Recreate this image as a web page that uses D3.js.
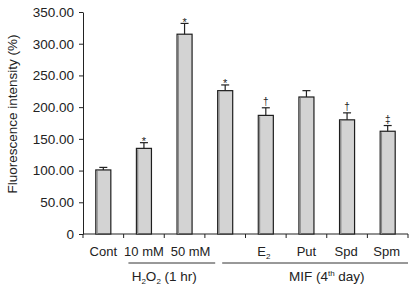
<!DOCTYPE html>
<html>
<head>
<meta charset="UTF-8">
<script src="https://d3js.org/d3.v7.min.js"></script>
<style>
  body { margin: 0; background: #fff; }
  text { font-family: "Liberation Sans", Arial, sans-serif; fill: #222; }
</style>
</head>
<body>
<svg></svg>
<script>
// Daten
const categories = ["Cont", "10 mM", "50 mM", "MIF", "E2", "Put", "Spd", "Spm"];
const values = [101, 135, 315, 226, 187, 216, 180, 162];
const errors = [4, 9, 17, 9, 12, 10, 11, 9];
const marks = ["", "*", "*", "*", "†", "", "†", "‡"];
const yTicks = [0, 50, 100, 150, 200, 250, 300, 350];
const groups = [
  { label: "H2O2", members: ["10 mM", "50 mM"] },
  { label: "MIF", members: ["E2", "Put", "Spd", "Spm"] }
];

const W = 410, H = 289;
const svg = d3.select("svg").attr("width", W).attr("height", H);

const x = d3.scaleBand().domain(categories).range([83, 408]).paddingInner(0.63).paddingOuter(0.315);
const y = d3.scaleLinear().domain([0, 350]).range([234, 12]);

// Y-Achse
const yAxis = svg.append("g")
  .attr("transform", "translate(83,0)")
  .call(d3.axisLeft(y).tickValues(yTicks).tickSize(4).tickSizeOuter(0).tickPadding(5)
    .tickFormat(d => d === 0 ? "0" : d3.format(".2f")(d)));
yAxis.selectAll("text").style("font-size", "13.5px").style("font-family", "Liberation Sans, Arial, sans-serif").attr("fill", "#222");
yAxis.selectAll("line, path").attr("stroke", "#222");

// X-Achse mit Ticks an den Bandgrenzen
const xEnd = x.range()[1];
svg.append("line").attr("x1", 83).attr("x2", xEnd).attr("y1", y(0)).attr("y2", y(0)).attr("stroke", "#222");
const bounds = categories.map(c => x(c) - (x.step() - x.bandwidth()) / 2).concat([xEnd]);
svg.selectAll(".xtick").data(bounds).join("line")
  .attr("x1", d => d).attr("x2", d => d)
  .attr("y1", y(0)).attr("y2", y(0) + 4)
  .attr("stroke", "#222");

// Balken
const cx = c => x(c) + x.bandwidth() / 2;
const data = categories.map((c, i) => ({ c, v: values[i], e: errors[i], m: marks[i] }));

svg.selectAll(".bar").data(data).join("rect")
  .attr("x", d => x(d.c)).attr("width", x.bandwidth())
  .attr("y", d => y(d.v)).attr("height", d => y(0) - y(d.v))
  .attr("fill", "#d3d3d3").attr("stroke", "#1e1e1e").attr("stroke-width", 1.2);
svg.selectAll(".shade").data(data).join("line")
  .attr("x1", d => x(d.c) + 1.2).attr("x2", d => x(d.c) + 1.2)
  .attr("y1", d => y(d.v) + 1).attr("y2", y(0))
  .attr("stroke", "#888").attr("stroke-width", 1.4);

// Fehlerbalken (nur nach oben)
svg.selectAll(".err").data(data).join("line")
  .attr("x1", d => cx(d.c)).attr("x2", d => cx(d.c))
  .attr("y1", d => y(d.v)).attr("y2", d => y(d.v + d.e))
  .attr("stroke", "#222").attr("stroke-width", 1.2);
svg.selectAll(".cap").data(data).join("line")
  .attr("x1", d => cx(d.c) - 4).attr("x2", d => cx(d.c) + 4)
  .attr("y1", d => y(d.v + d.e)).attr("y2", d => y(d.v + d.e))
  .attr("stroke", "#222").attr("stroke-width", 1.2);

// Signifikanzzeichen
svg.selectAll(".mark").data(data.filter(d => d.m)).join("text")
  .attr("x", d => cx(d.c))
  .attr("y", d => y(d.v + d.e) + (d.m === "*" ? 2.5 : -3))
  .attr("text-anchor", "middle")
  .style("font-size", d => d.m === "*" ? "11px" : "10px")
  .text(d => d.m);

// Kategorie-Beschriftungen (leicht versetzt wie im Original)
const labelShift = { "Cont": 0, "10 mM": 0, "50 mM": 6, "E2": -2, "Put": 0, "Spd": -1, "Spm": -1 };
const lab = svg.selectAll(".xl").data(categories.filter(c => c !== "MIF")).join("text")
  .attr("x", d => cx(d) + labelShift[d]).attr("y", 256)
  .attr("text-anchor", "middle")
  .style("font-size", "13px");
lab.each(function(d) {
  const t = d3.select(this);
  if (d === "E2") {
    t.append("tspan").text("E");
    t.append("tspan").attr("dy", 3).style("font-size", "8px").text("2");
  } else {
    t.text(d);
  }
});

// Gruppenlinien und -titel
const g0 = groups[0], g1 = groups[1];
svg.append("line").attr("x1", x(g0.members[0]) - 8).attr("x2", cx("MIF") - 10)
  .attr("y1", 263).attr("y2", 263).attr("stroke", "#333");
svg.append("line").attr("x1", cx("MIF") - 3).attr("x2", xEnd)
  .attr("y1", 263).attr("y2", 263).attr("stroke", "#333");

const mid = m => (cx(m[0]) + cx(m[m.length - 1])) / 2;
const t0 = svg.append("text").attr("x", mid(g0.members)).attr("y", 281)
  .attr("text-anchor", "middle").style("font-size", "13.5px");
t0.append("tspan").text("H");
t0.append("tspan").attr("dy", 3).style("font-size", "8px").text("2");
t0.append("tspan").attr("dy", -3).text("O");
t0.append("tspan").attr("dy", 3).style("font-size", "8px").text("2");
t0.append("tspan").attr("dy", -3).text(" (1 hr)");

const t1 = svg.append("text").attr("x", mid(g1.members)).attr("y", 281)
  .attr("text-anchor", "middle").style("font-size", "13.5px");
t1.append("tspan").text("MIF (4");
t1.append("tspan").attr("dy", -5).style("font-size", "8px").text("th");
t1.append("tspan").attr("dy", 5).text(" day)");

// Y-Achsentitel
svg.append("text")
  .attr("transform", "translate(17,114) rotate(-90)")
  .attr("text-anchor", "middle")
  .style("font-size", "13.5px")
  .text("Fluorescence intensity (%)");
</script>
</body>
</html>
